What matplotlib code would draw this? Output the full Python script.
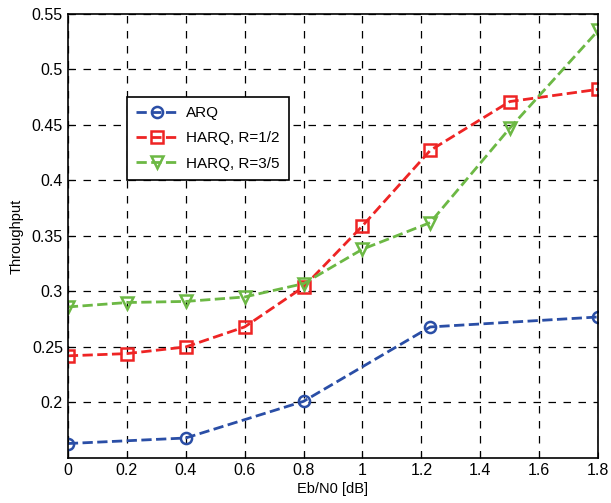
import matplotlib.pyplot as plt

plt.rcParams['font.family'] = ['Liberation Sans', 'DejaVu Sans']

ebn0 = [0, 0.2, 0.4, 0.6, 0.8, 1.0, 1.23, 1.5, 1.8]
arq_x = [0, 0.4, 0.8, 1.23, 1.8]
arq = [0.163, 0.168, 0.201, 0.268, 0.277]
harq_12 = [0.242, 0.244, 0.250, 0.268, 0.304, 0.359, 0.427, 0.471, 0.482]
harq_35 = [0.286, 0.290, 0.291, 0.295, 0.307, 0.338, 0.362, 0.447, 0.535]

xticks = [0, 0.2, 0.4, 0.6, 0.8, 1, 1.2, 1.4, 1.6, 1.8]
yticks = [0.2, 0.25, 0.3, 0.35, 0.4, 0.45, 0.5, 0.55]

fig = plt.figure(figsize=(6.11, 5.03), dpi=100)
ax = fig.add_axes([0.111, 0.0895, 0.868, 0.883])

ax.plot(arq_x, arq, '--o', color='#2a4ea6', lw=2, ms=8, mfc='none', mew=1.8, label='ARQ')
ax.plot(ebn0, harq_12, '--s', color='#ee2424', lw=2, ms=9, mfc='none', mew=1.8, label='HARQ, R=1/2')
ax.plot(ebn0, harq_35, '--v', color='#6cb844', lw=2, ms=9, mfc='none', mew=1.8, label='HARQ, R=3/5')

ax.set_xlim(0, 1.8)
ax.set_ylim(0.15, 0.55)
ax.set_xticks(xticks)
ax.set_xticklabels([f"{t:g}" for t in xticks])
ax.set_yticks(yticks)
ax.set_yticklabels([f"{t:g}" for t in yticks])
ax.tick_params(direction='in', labelsize=11.5, length=4)
ax.grid(True, linestyle=(0, (6, 6)), color='black', lw=0.9)
for s in ax.spines.values():
    s.set_linewidth(1.2)

ax.set_xlabel('Eb/N0 [dB]', fontsize=10.5, labelpad=3)
ax.set_ylabel('Throughput', fontsize=10.5, labelpad=6)

leg = ax.legend(loc='lower left', bbox_to_anchor=(0.111, 0.626), fontsize=11,
                fancybox=False, framealpha=1, edgecolor='black', borderpad=0.6,
                borderaxespad=0, handlelength=2.8, handletextpad=0.5,
                labelspacing=0.75)
leg.get_frame().set_linewidth(1.2)

fig.savefig('out.png', dpi=100)
